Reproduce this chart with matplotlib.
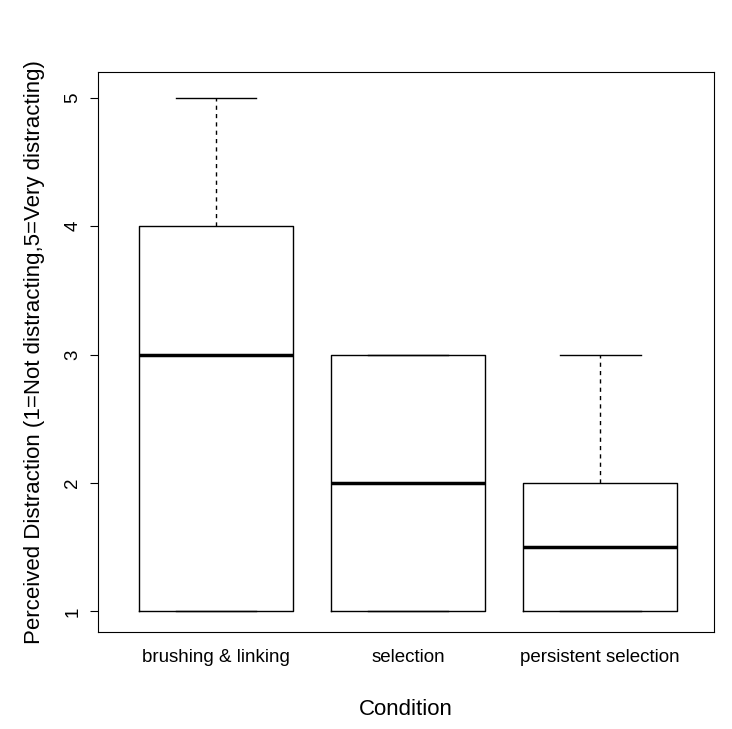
import matplotlib
matplotlib.use("Agg")
import matplotlib.pyplot as plt

categories = ["brushing & linking", "selection", "persistent selection"]
whislo = [1, 1, 1]
q1 = [1, 1, 1]
med = [3, 2, 1.5]
q3 = [4, 3, 2]
whishi = [5, 3, 3]
yticks = [1, 2, 3, 4, 5]

plt.rcParams['font.family'] = ['Liberation Sans', 'DejaVu Sans']
fig = plt.figure(figsize=(7.32, 7.29), dpi=100)
ax = fig.add_axes([0.134, 0.133, 0.841, 0.768])
stats = [dict(label=c, whislo=a, q1=b, med=m, q3=d, whishi=e, fliers=[])
         for c, a, b, m, d, e in zip(categories, whislo, q1, med, q3, whishi)]
ax.bxp(stats, positions=[1, 2, 3], widths=0.8, capwidths=0.42,
       boxprops=dict(color='black', linewidth=1),
       medianprops=dict(color='black', linewidth=2.5),
       whiskerprops=dict(color='black', linewidth=1, linestyle=(0, (3, 3))),
       capprops=dict(color='black', linewidth=1))
ax.set_xlim(0.387, 3.59)
ax.set_ylim(0.84, 5.2)
ax.set_yticks(yticks)
ax.set_yticklabels([str(t) for t in yticks], rotation=90, va='center', fontsize=13.5)
ax.tick_params(axis='x', length=0, labelsize=13.5, pad=12)
ax.tick_params(axis='y', length=6, pad=6)
ax.set_xlabel("Condition", fontsize=16, labelpad=24)
ax.set_ylabel("Perceived Distraction (1=Not distracting,5=Very distracting)", fontsize=16, labelpad=14)
fig.savefig("out.png", dpi=100)
